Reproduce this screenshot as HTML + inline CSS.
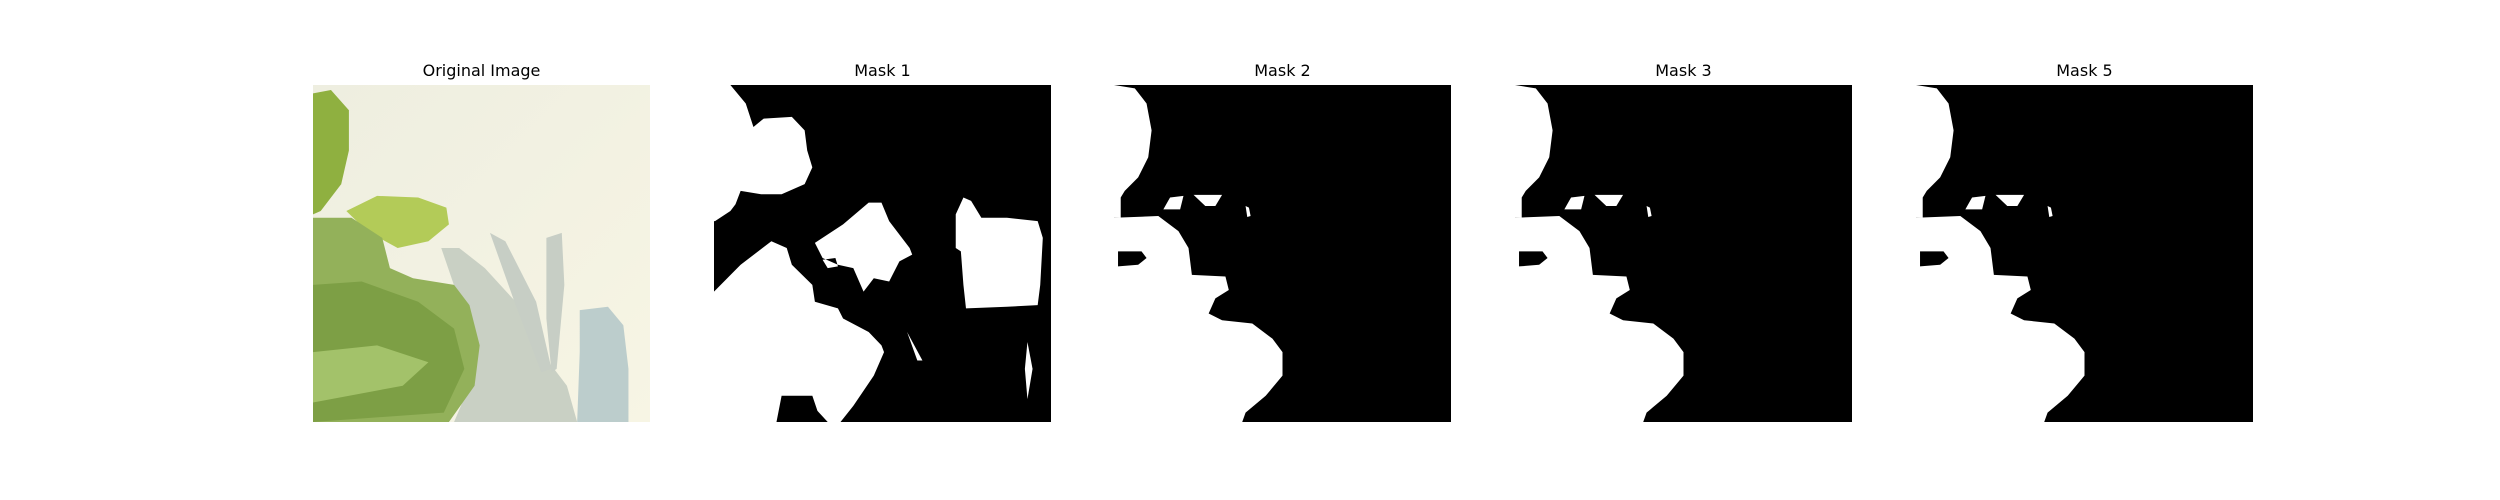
<!DOCTYPE html>
<html><head><meta charset="utf-8"><style>
html,body{margin:0;padding:0;background:#fff}
#fig{position:relative;width:2500px;height:500px;background:#fff;font-family:"DejaVu Sans","Liberation Sans",sans-serif}
.ttl{position:absolute;top:60px;width:337px;text-align:center;font-size:16px;color:#000;line-height:22px}
svg.p{position:absolute;top:85px;width:337px;height:337px}
</style></head><body>
<div id="fig">
<div class="ttl" style="left:313px">Original Image</div>
<div class="ttl" style="left:714px">Mask 1</div>
<div class="ttl" style="left:1114px">Mask 2</div>
<div class="ttl" style="left:1515px">Mask 3</div>
<div class="ttl" style="left:1916px">Mask 5</div>

<svg class="p" style="left:313px" viewBox="25 105 657 1003" preserveAspectRatio="none">
<defs><linearGradient id="bg" x1="0" y1="0" x2="1" y2="1"><stop offset="0" stop-color="#eeeee0"/><stop offset="1" stop-color="#f7f5e4"/></linearGradient></defs>
<rect x="25" y="105" width="657" height="1003" fill="url(#bg)"/>
<path d="M275,590L310,590L360,650L420,750L470,900L520,1000L540,1108L300,1108L330,1000L340,880Z" fill="#c9d0c4"/>
<path d="M370,545L400,570L460,750L490,950L470,960L420,760Z" fill="#c7cec5"/>
<path d="M480,560L510,545L515,700L500,950L490,960L480,800Z" fill="#c7cec5"/>
<path d="M545,775L600,765L630,820L640,950L640,1108L540,1108L545,900Z" fill="#bccdcc"/>
<path d="M25,130L60,120L95,180L95,300L80,400L40,480L25,490Z" fill="#8fb040"/>
<path d="M90,480L150,435L230,440L285,470L290,520L250,570L190,590L130,540Z" fill="#b3cb58"/>
<path d="M25,500L100,500L160,560L175,650L220,680L300,700L330,760L350,880L340,1000L290,1108L25,1108Z" fill="#93b15a"/>
<path d="M25,700L120,690L230,750L300,830L320,950L280,1080L25,1108Z" fill="#7d9f45"/>
<path d="M25,900L150,880L250,930L200,1000L25,1050Z" fill="#a3c26a"/>
</svg>

<svg class="p" style="left:714px" viewBox="808 105 658 1003" preserveAspectRatio="none">
<rect x="808" y="105" width="658" height="1003" fill="#000"/>
<g fill="#fff">
<path d="M808,105L840,105L870,160L885,230L905,205L960,200L985,240L990,300L1000,350L985,400L940,430L900,430L860,420L850,460L840,480L810,510L808,510Z"/>
<path fill-rule="evenodd" d="M1005,575L1060,520L1110,455L1135,455L1150,510L1190,590L1195,610L1170,630L1150,690L1120,680L1100,720L1080,650L1050,640L1020,620Z M1020,625L1045,620L1050,645L1030,650Z"/>
<path d="M1280,490L1295,440L1310,450L1330,500L1380,500L1440,510L1450,560L1445,700L1440,760L1380,765L1300,770L1295,700L1290,600L1280,590Z"/>
<path d="M808,720L860,640L920,570L950,590L960,640L1000,700L1005,750L1050,770L1060,800L1110,840L1135,880L1140,900L1120,970L1080,1060L1055,1108L1030,1108L1010,1075L1000,1030L940,1030L930,1108L808,1108Z"/>
<path d="M1185,840L1215,925L1205,925Z"/>
<path d="M1420,870L1430,950L1420,1040L1415,950Z"/>
</g>
</svg>

<svg class="p" style="left:1114px" viewBox="108 105 1004 1003" preserveAspectRatio="none">
<rect x="108" y="105" width="1004" height="1003" fill="#000"/>
<g fill="#fff" fill-rule="evenodd">
<path d="M108,105L170,115L205,160L220,240L210,320L180,380L140,420L128,440L128,500L108,500Z"/>
<path d="M108,500L240,495L300,540L330,590L340,670L440,675L450,715L410,740L390,785L430,805L520,815L580,860L610,900L610,970L560,1030L500,1080L490,1108L108,1108Z M120,600L190,600L205,620L180,640L120,645Z"/>
<path d="M255,475L275,440L315,435L305,475Z"/><path d="M345,432L430,432L410,465L380,465Z"/><path d="M500,465L510,470L515,495L505,498Z"/>
</g>
</svg>

<svg class="p" style="left:1515px" viewBox="108 105 1004 1003" preserveAspectRatio="none">
<rect x="108" y="105" width="1004" height="1003" fill="#000"/>
<g fill="#fff" fill-rule="evenodd">
<path d="M108,105L170,115L205,160L220,240L210,320L180,380L140,420L128,440L128,500L108,500Z"/>
<path d="M108,500L240,495L300,540L330,590L340,670L440,675L450,715L410,740L390,785L430,805L520,815L580,860L610,900L610,970L560,1030L500,1080L490,1108L108,1108Z M120,600L190,600L205,620L180,640L120,645Z"/>
<path d="M255,475L275,440L315,435L305,475Z"/><path d="M345,432L430,432L410,465L380,465Z"/><path d="M500,465L510,470L515,495L505,498Z"/>
</g>
</svg>

<svg class="p" style="left:1916px" viewBox="108 105 1004 1003" preserveAspectRatio="none">
<rect x="108" y="105" width="1004" height="1003" fill="#000"/>
<g fill="#fff" fill-rule="evenodd">
<path d="M108,105L170,115L205,160L220,240L210,320L180,380L140,420L128,440L128,500L108,500Z"/>
<path d="M108,500L240,495L300,540L330,590L340,670L440,675L450,715L410,740L390,785L430,805L520,815L580,860L610,900L610,970L560,1030L500,1080L490,1108L108,1108Z M120,600L190,600L205,620L180,640L120,645Z"/>
<path d="M255,475L275,440L315,435L305,475Z"/><path d="M345,432L430,432L410,465L380,465Z"/><path d="M500,465L510,470L515,495L505,498Z"/>
</g>
</svg>
</div>
</body></html>
